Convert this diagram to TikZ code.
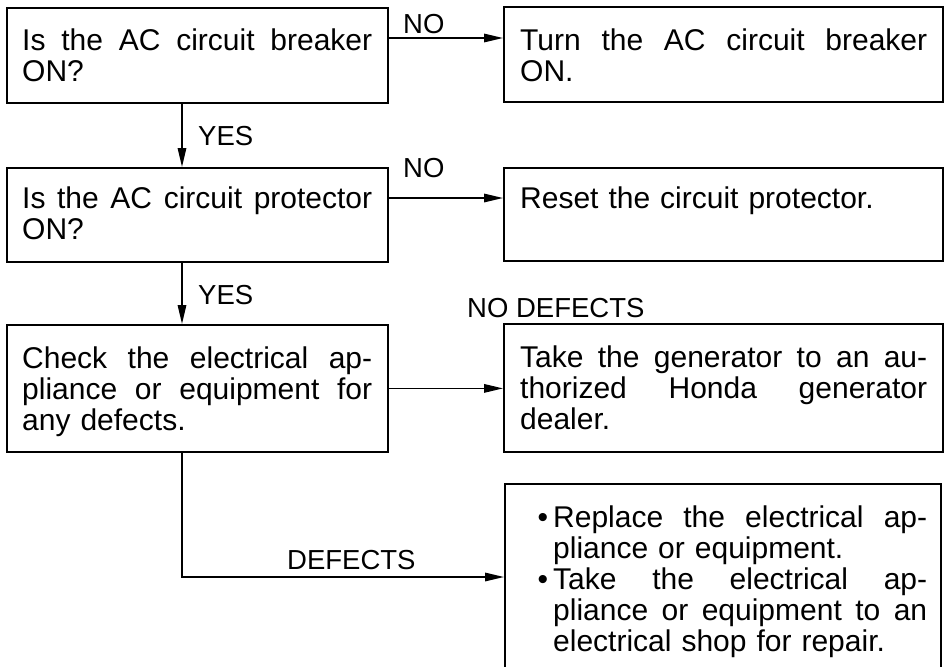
\documentclass[tikz,border=0pt]{standalone}
\usepackage{fontspec}
\setmainfont{Liberation Sans}
\usetikzlibrary{arrows.meta}
\newcommand\jline[2]{\leavevmode\hbox to #1{#2}}
\newcommand\bul{\leavevmode\llap{\textbullet\hspace{5pt}}}
\newcommand\gp{\hfill}
\begin{document}
\begin{tikzpicture}[x=1pt,y=-1pt,
  box/.style={draw,line width=1.8pt,anchor=north west,inner sep=0pt},
  txt/.style={anchor=base west,inner sep=0pt,align=left,font=\fontsize{30}{31}\selectfont},
  lbl/.style={anchor=base west,inner sep=0pt,font=\fontsize{27.5}{30}\selectfont},
  arr/.style={line width=1.6pt,-{Triangle[length=19pt,width=8.5pt]}},
  con/.style={line width=1.6pt}]
\useasboundingbox (0,0) rectangle (946,667);
\clip (0,0) rectangle (946,667);
% boxes
\node[box,minimum width=381pt,minimum height=95pt] (L1) at (6,7) {};
\node[box,minimum width=381pt,minimum height=94pt] (L2) at (6,167) {};
\node[box,minimum width=381pt,minimum height=127pt] (L3) at (6,324) {};
\node[box,minimum width=439pt,minimum height=95pt] (R1) at (503,6) {};
\node[box,minimum width=439pt,minimum height=93pt] (R2) at (503,167) {};
\node[box,minimum width=439pt,minimum height=128pt] (R3) at (503,323) {};
\node[box,minimum width=436pt,minimum height=210pt] (R4) at (504,483) {};
% texts
\node[txt,text width=350pt] (L1t) at (22,50) {\jline{350pt}{Is\gp the\gp AC\gp circuit\gp breaker}\\ON?};
\node[txt,text width=350pt] (L2t) at (22,208) {\jline{350pt}{Is\gp the\gp AC\gp circuit\gp protector}\\ON?};
\node[txt,text width=350pt] (L3t) at (22,368) {\jline{350pt}{Check\gp the\gp electrical\gp ap-}\\\jline{350pt}{pliance\gp or\gp equipment\gp for}\\any defects.};
\node[txt,text width=407pt] (R1t) at (520,50) {\jline{407pt}{Turn\gp the\gp AC\gp circuit\gp breaker}\\ON.};
\node[txt,text width=407pt] (R2t) at (520,208) {Reset the circuit protector.};
\node[txt,text width=407pt] (R3t) at (520,367) {\jline{407pt}{Take\gp the\gp generator\gp to\gp an\gp au-}\\\jline{407pt}{thorized\gp Honda\gp generator}\\dealer.};
\node[txt,text width=374pt] (R4t) at (553,527) {\bul\jline{374pt}{Replace\gp the\gp electrical\gp ap-}\\pliance or equipment.\\\bul\jline{374pt}{Take\gp the\gp electrical\gp ap-}\\\jline{374pt}{pliance\gp or\gp equipment\gp to\gp an}\\electrical shop for repair.};
% connectors
\draw[arr] ([yshift=-31pt]L1.north east) -- ([yshift=-31pt]L1.north east -| R1.west);
\draw[arr] ([yshift=-31pt]L2.north east) -- ([yshift=-31pt]L2.north east -| R2.west);
\draw[arr] ([xshift=176pt]L1.south west) -- ([xshift=176pt]L2.north west);
\draw[arr] ([xshift=176pt]L2.south west) -- ([xshift=176pt]L3.north west);
\draw[arr] (L3.east) -- (L3.east -| R3.west);
\draw[arr] ([xshift=176pt]L3.south west) |- ([yshift=-94pt]R4.north west);
% labels
\node[lbl] (no1) at (403,33) {NO};
\node[lbl] (no2) at (403,177) {NO};
\node[lbl] (yes1) at (198,145) {YES};
\node[lbl] (yes2) at (198,304) {YES};
\node[lbl] (nodef) at (467,317) {NO DEFECTS};
\node[lbl] (def) at (287,569) {DEFECTS};
\end{tikzpicture}
\end{document}
